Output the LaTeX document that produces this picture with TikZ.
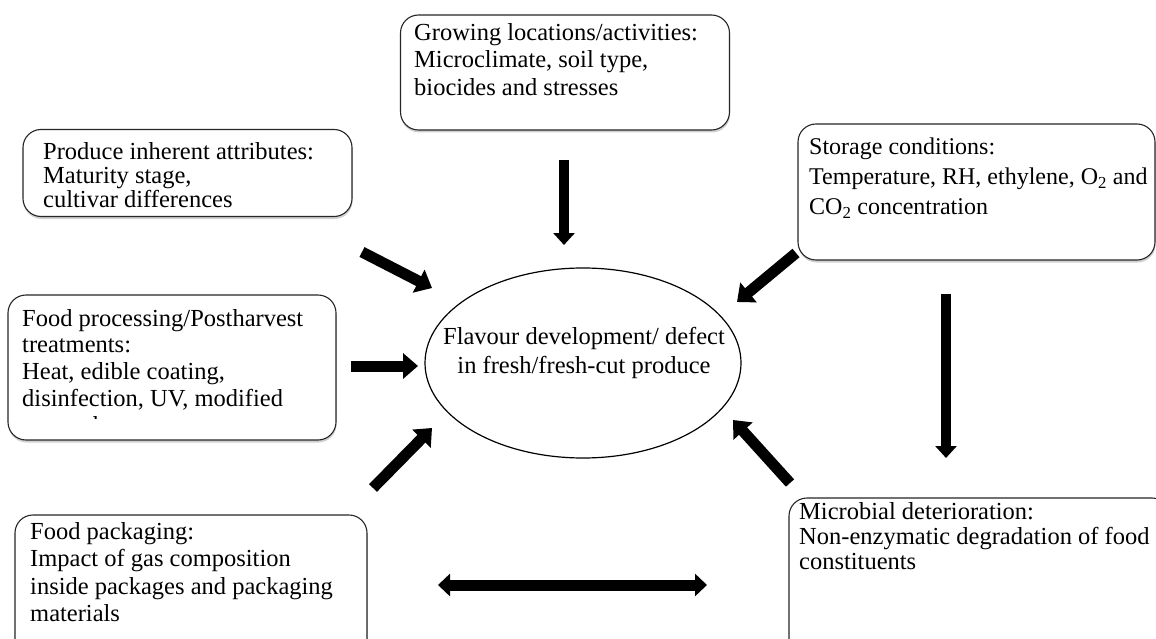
\documentclass[tikz,border=0pt]{standalone}
\usepackage{fontspec}
\setmainfont{Liberation Serif}
\usetikzlibrary{arrows.meta,shadows,shapes.geometric}
\begin{document}
\begin{tikzpicture}[x=1pt,y=-1pt,
  box/.style={draw=black!85, line width=1.1pt, rounded corners=18pt, fill=white,
    drop shadow={shadow xshift=0.5pt, shadow yshift=-2.5pt, fill=black!30, opacity=0.6}},
  txt/.style={font=\fontsize{24.5}{27}\selectfont, align=left, inner sep=0pt, anchor=north west},
  bigarr/.style={line width=11pt, -{Triangle[length=15pt 0 0, width=25pt 0 0]}},
  vertarr/.style={line width=10pt, -{Triangle[length=12pt 0 0, width=21pt 0 0]}},
  dblarr/.style={line width=11pt, {Triangle[length=12pt 0 0, width=22pt 0 0]}-{Triangle[length=12pt 0 0, width=22pt 0 0]}}
]
\fill[white] (0,0) rectangle (1156,639);
\useasboundingbox (0,0) rectangle (1156,639);
\clip (0,0) rectangle (1156,639);

% boxes
\node[box, minimum width=329pt, minimum height=115pt] (grow) at (565,72.5) {};
\node[box, minimum width=329pt, minimum height=87pt] (prod) at (187.5,173) {};
\node[box, minimum width=357pt, minimum height=136pt] (stor) at (976.5,192) {};
\node[box, minimum width=328pt, minimum height=145pt] (proc) at (172,367.5) {};
\node[box, minimum width=352pt, minimum height=150pt] (pack) at (191,590) {};
\node[box, minimum width=381pt, minimum height=165pt] (micro) at (979.5,580.5) {};
\node[draw=black, line width=1.2pt, ellipse, minimum width=316pt, minimum height=190pt] (ell) at (583,363) {};

% texts
\node[txt, font=\fontsize{24.5}{27.5}\selectfont] (growt) at (414,23) {Growing locations/activities:\\Microclimate, soil type,\\biocides and stresses};
\node[txt, font=\fontsize{24.5}{24}\selectfont] (prodt) at (43,142) {Produce inherent attributes:\\Maturity stage,\\cultivar differences};
\node[txt, font=\fontsize{24}{30}\selectfont] (stort) at (809,138) {Storage conditions:\\Temperature, RH, ethylene, O\textsubscript{2} and\\CO\textsubscript{2} concentration};
\begin{scope}
\clip (0,290) rectangle (340,418);
\node[txt, font=\fontsize{24.5}{26.7}\selectfont] (proct) at (22,309) {Food processing/Postharvest\\treatments:\\Heat, edible coating,\\disinfection, UV, modified\\atmosphere};
\end{scope}
\node[txt, font=\fontsize{24.5}{27.5}\selectfont] (packt) at (30,522) {Food packaging:\\Impact of gas composition\\inside packages and packaging\\materials};
\node[txt, font=\fontsize{24.5}{25}\selectfont] (microt) at (799,502) {Microbial deterioration:\\Non-enzymatic degradation of food\\constituents};
\node[font=\fontsize{24.5}{29}\selectfont, align=center, inner sep=0pt] (ellt) at (584,352.5) {Flavour development/ defect\\in fresh/fresh-cut produce};

% arrow end points
\coordinate (a1s) at (564,160); \coordinate (a1e) at (564,245);
\coordinate (a2s) at (362,252); \coordinate (a2e) at (432,288);
\coordinate (a3s) at (796,253); \coordinate (a3e) at (737,302);
\coordinate (a4s) at (946,294); \coordinate (a4e) at (946,458);
\coordinate (a5s) at (351,366); \coordinate (a5e) at (418,366);
\coordinate (a6s) at (373,488); \coordinate (a6e) at (432,428);
\coordinate (a7s) at (790,483); \coordinate (a7e) at (733,420);
\coordinate (a8s) at (438,585); \coordinate (a8e) at (707,585);

\draw[vertarr] (a1s) -- (a1e);
\draw[bigarr] (a2s) -- (a2e);
\draw[bigarr] (a3s) -- (a3e);
\draw[vertarr] (a4s) -- (a4e);
\draw[bigarr] (a5s) -- (a5e);
\draw[bigarr] (a6s) -- (a6e);
\draw[bigarr] (a7s) -- (a7e);
\draw[dblarr] (a8s) -- (a8e);
\end{tikzpicture}
\end{document}
